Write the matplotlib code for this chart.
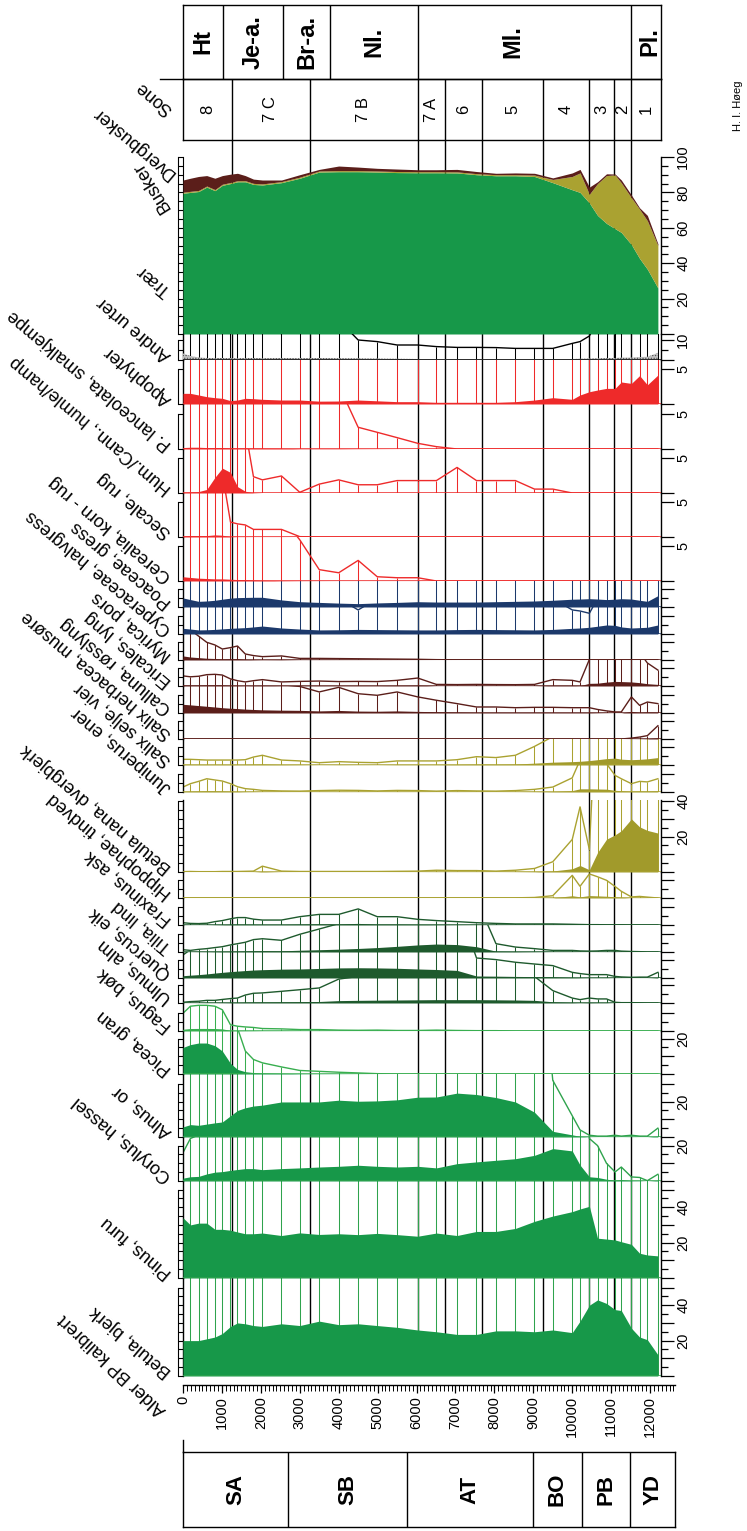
import numpy as np
import matplotlib.pyplot as plt
from matplotlib.transforms import ScaledTranslation

plt.rcParams['font.family'] = ['Liberation Sans', 'DejaVu Sans']
plt.rcParams['hatch.linewidth'] = 0.6

# ---------------- data ----------------
AGES = [0, 190, 400, 610, 820, 1010, 1220, 1400, 1600, 1810,
        2040, 2530, 3000, 3500, 4000, 4500, 4990, 5500, 6030, 6510,
        7040, 7540, 8040, 8540, 9030, 9500, 10000, 10200, 10440, 10650,
        10880, 11100, 11260, 11520, 11730, 11930, 12200]

BETULA = [20, 20, 20, 21, 22, 24, 28, 30, 29.5, 28.5,
          28, 29.5, 28.5, 31, 29, 29.5, 28.5, 27.5, 26, 25,
          23.5, 23.5, 25.5, 25.5, 25, 26, 24.5, 31, 40, 43,
          41, 37.5, 37, 27, 22, 20.5, 12]
PINUS = [34, 30, 31, 31, 27.5, 27.5, 27, 26, 25, 25,
         25.4, 24, 25.5, 24.6, 25, 24.5, 25.2, 24.5, 23.6, 25.4,
         24, 26.3, 26.3, 28, 32, 35, 37.5, 39, 40.5, 22.5,
         22, 21.5, 20.5, 19, 14, 13, 12.5]
CORYLUS = [1.6, 2.4, 2.6, 4, 5, 5.3, 6, 6.5, 7, 7,
           6.4, 7, 7.4, 7.9, 8.3, 8.9, 8.3, 7.9, 8.3, 7.4,
           9.8, 10.8, 11.7, 12.6, 14.5, 18.3, 17, 9, 2.4, 2.0,
           1.0, 0.51, 0.79, 0.23, 0.2, 0.02, 0.38]
ALNUS = [5.7, 7, 6.6, 7.3, 8, 8.5, 12, 15, 16.5, 17.5,
         18, 19.8, 19.8, 19.8, 20.8, 20.2, 20.4, 21, 22.5, 22.6,
         24.8, 24, 22.3, 19.8, 14, 3.2, 1.2, 0.4, 0.1, 0.05,
         0.05, 0.1, 0.05, 0.1, 0.05, 0.05, 0.5]
PICEA = [15, 16.6, 17.5, 17.5, 16, 13, 6, 2.6, 1.3, 0.82,
         0.63, 0.4, 0.2, 0.15, 0.1, 0.06, 0.02, 0, 0, 0,
         0, 0, 0, 0, 0, 0, 0, 0, 0, 0,
         0, 0, 0, 0, 0, 0, 0]
FAGUS = [1.0, 1.4, 1.45, 1.45, 1.4, 1.2, 0.35, 0.27, 0.23, 0.2,
         0.14, 0.12, 0.08, 0.08, 0.05, 0.04, 0.05, 0.03, 0.03, 0.05,
         0.03, 0.02, 0.02, 0, 0, 0, 0, 0, 0, 0,
         0, 0, 0, 0, 0, 0, 0]
ULMUS = [0.04, 0.08, 0.1, 0.15, 0.15, 0.2, 0.25, 0.28, 0.45, 0.55,
         0.57, 0.66, 0.75, 0.85, 1.35, 1.5, 1.6, 1.7, 1.8, 1.9,
         1.9, 1.9, 1.8, 1.7, 1.5, 0.7, 0.28, 0.19, 0.28, 0.23,
         0.23, 0.04, 0.02, 0.02, 0.01, 0, 0]
QUERCUS = [1.3, 1.6, 1.9, 2.3, 2.8, 3.2, 3.6, 3.9, 4.2, 4.5,
           4.7, 5.0, 5.1, 5.4, 5.7, 5.8, 5.7, 5.5, 5.1, 4.8,
           4.3, 1.13, 1.04, 0.89, 0.79, 0.7, 0.32, 0.25, 0.19, 0.19,
           0.19, 0.09, 0.06, 0.04, 0.05, 0.05, 0.32]
TILIA = [0.13, 0.09, 0.15, 0.19, 0.25, 0.3, 0.4, 0.47, 0.55, 0.7,
         0.75, 0.66, 1.0, 1.3, 1.6, 2.0, 2.5, 3.2, 4.0, 4.5,
         4.2, 3.0, 0.47, 0.28, 0.19, 0.09, 0.09, 0.06, 0.05, 0.06,
         0.09, 0.09, 0.05, 0.03, 0.02, 0, 0]
FRAXINUS = [0.13, 0.09, 0.08, 0.1, 0.19, 0.25, 0.35, 0.42, 0.42, 0.33,
            0.28, 0.28, 0.47, 0.6, 0.6, 0.91, 0.47, 0.47, 0.32, 0.25,
            0.19, 0.13, 0.09, 0.06, 0.06, 0.06, 0.04, 0.03, 0.02, 0.02,
            0.01, 0.01, 0.01, 0, 0, 0, 0]
HIPPOPHAE = [0.01, 0.01, 0.01, 0.01, 0.01, 0.01, 0.01, 0.01, 0.01, 0.01,
             0.01, 0.01, 0.01, 0.01, 0.01, 0.01, 0.01, 0.01, 0.01, 0.01,
             0.01, 0.01, 0.01, 0.01, 0.03, 0.13, 1.28, 0.66, 1.36, 1.2,
             1.0, 0.65, 0.38, 0.06, 0.09, 0.05, 0]
BETULA_NANA = [0.02, 0.03, 0.02, 0.02, 0.02, 0.03, 0.03, 0.03, 0.04, 0.05,
               0.33, 0.05, 0.03, 0.03, 0.03, 0.03, 0.03, 0.04, 0.05, 0.1,
               0.08, 0.08, 0.05, 0.1, 0.2, 0.58, 1.84, 3.68, 1.26, 11,
               18.5, 21, 23.3, 30, 25.5, 23.5, 22]
JUNIPERUS = [0.28, 0.47, 0.6, 0.75, 0.68, 0.62, 0.47, 0.3, 0.19, 0.15,
             0.09, 0.06, 0.05, 0.08, 0.1, 0.09, 0.06, 0.09, 0.08, 0.05,
             0.08, 0.06, 0.05, 0.08, 0.15, 0.28, 0.8, 1.8, 1.8, 1.7,
             1.6, 0.94, 0.75, 0.47, 0.6, 0.57, 0.75]
SALIX = [0.32, 0.32, 0.3, 0.28, 0.28, 0.28, 0.28, 0.28, 0.3, 0.45,
         0.55, 0.28, 0.23, 0.13, 0.19, 0.15, 0.13, 0.23, 0.23, 0.23,
         0.3, 0.47, 0.42, 0.55, 1.05, 1.6, 1.9, 2.1, 2.5, 3.0,
         3.6, 3.9, 3.3, 3.0, 3.2, 3.5, 4.2]
SALIX_HERBACEA = [0, 0, 0, 0, 0, 0, 0, 0, 0, 0,
                  0, 0, 0, 0, 0, 0, 0, 0, 0, 0,
                  0, 0, 0, 0, 0, 0, 0, 0, 0, 0,
                  0, 0, 0, 0.05, 0.11, 0.19, 0.75]
CALLUNA = [4.9, 4.6, 4.2, 3.8, 3.4, 3.0, 2.7, 2.5, 2.2, 2.0,
           1.8, 1.6, 1.5, 1.19, 1.45, 1.09, 1.0, 1.19, 0.91, 0.72,
           0.53, 0.34, 0.34, 0.3, 0.32, 0.32, 0.3, 0.3, 0.3, 0.2,
           0.12, 0.06, 0.06, 0.91, 0.43, 0.62, 0.53]
ERICALES = [0.57, 0.52, 0.55, 0.64, 0.66, 0.62, 0.4, 0.3, 0.23, 0.3,
            0.36, 0.23, 0.26, 0.28, 0.25, 0.26, 0.25, 0.32, 0.45, 0.09,
            0.08, 0.09, 0.08, 0.075, 0.09, 0.36, 0.32, 0.23, 1.5, 1.6,
            2.2, 2.6, 2.5, 2.3, 1.9, 1.3, 0.9]
MYRICA = [2.3, 1.7, 1.35, 1.0, 0.85, 0.62, 0.7, 0.79, 0.34, 0.25,
          0.19, 0.23, 0.09, 0.09, 0.08, 0.07, 0.06, 0.05, 0.04, 0.02,
          0.01, 0.01, 0.01, 0.01, 0.01, 0.01, 0.01, 0.01, 0.01, 0.01,
          0.01, 0.01, 0.01, 0.01, 0.01, 0.01, 0.01]
CYPERACEAE = [3.2, 2.8, 2.3, 2.4, 2.6, 2.9, 3.2, 3.4, 3.6, 4.0,
              4.5, 3.4, 2.8, 2.3, 2.4, 2.6, 2.5, 2.4, 2.3, 2.3,
              2.5, 2.6, 2.5, 2.4, 2.3, 2.6, 3.2, 3.4, 3.8, 4.4,
              5.1, 4.9, 4.0, 3.4, 3.6, 3.8, 5.1]
CYPERACEAE_CURVE = [20, 20, 20, 20, 20, 20, 20, 20, 20, 20,
                    20, 20, 20, 20, 20, 13.6, 20, 20, 20, 20,
                    20, 20, 20, 20, 20, 20, 13.6, 13.0, 11.7, 20,
                    20, 20, 20, 20, 20, 20, 20]
POACEAE = [5.1, 4.2, 3.2, 3.4, 3.8, 4.4, 5.0, 5.3, 5.4, 5.5,
           5.5, 4.0, 3.0, 2.6, 2.2, 1.9, 2.3, 2.6, 3.0, 2.8,
           2.8, 2.8, 3.0, 3.2, 3.4, 3.8, 4.4, 4.5, 4.7, 4.5,
           4.2, 4.4, 4.7, 4.5, 3.8, 3.2, 6.4]
CEREALIA = [0.6, 0.5, 0.4, 0.35, 0.3, 0.3, 0.25, 0.2, 0.2, 0.15,
            0.1, 0.05, 0.03, 0.02, 0.01, 0.01, 0.01, 0.01, 0.01, 0,
            0, 0, 0, 0, 0, 0, 0, 0, 0, 0,
            0, 0, 0, 0, 0, 0, 0]
CEREALIA_CURVE = [9, 9, 9, 9, 9, 9, 9, 9, 9, 9,
                  9, 9, 5.8, 1.6, 1.16, 2.9, 0.6, 0.46, 0.46, 0,
                  0, 0, 0, 0, 0, 0, 0, 0, 0, 0,
                  0, 0, 0, 0, 0, 0, 0]
SECALE = [0.15, 0.2, 0.2, 0.2, 0.3, 0.25, 0.05, 0.02, 0.02, 0.01,
          0.01, 0.01, 0, 0, 0, 0, 0, 0, 0, 0,
          0, 0, 0, 0, 0, 0, 0, 0, 0, 0,
          0, 0, 0, 0, 0, 0, 0]
SECALE_CURVE = [9, 9, 9, 9, 9, 9, 2.1, 1.85, 1.7, 1.07,
                1.07, 1.07, 0.05, 0, 0, 0, 0, 0, 0, 0,
                0, 0, 0, 0, 0, 0, 0, 0, 0, 0,
                0, 0, 0, 0, 0, 0, 0]
HUM_CANN = [0.1, 0.15, 0.2, 0.5, 2.2, 3.5, 2.9, 0.9, 0.25, 0.05,
            0, 0, 0, 0, 0, 0, 0, 0, 0, 0,
            0, 0, 0, 0, 0, 0, 0, 0, 0, 0,
            0, 0, 0, 0, 0, 0, 0]
HUM_CANN_CURVE = [9, 9, 9, 9, 9, 9, 9, 9, 9, 2.3,
                  1.85, 2.4, 0.1, 1.25, 1.85, 1.16, 1.16, 1.75, 1.75, 1.75,
                  3.6, 1.75, 1.75, 1.75, 0.55, 0.55, 0, 0, 0, 0,
                  0, 0, 0, 0, 0, 0, 0]
PLANCEOLATA = [0.2, 0.25, 0.25, 0.2, 0.2, 0.2, 0.15, 0.15, 0.15, 0.12,
               0.12, 0.1, 0.05, 0.05, 0.05, 0.03, 0.02, 0.01, 0, 0,
               0, 0, 0, 0, 0, 0, 0, 0, 0, 0,
               0, 0, 0, 0, 0, 0, 0]
PLANCEOLATA_CURVE = [9, 9, 9, 9, 9, 9, 9, 9, 9, 9,
                     9, 9, 9, 9, 9, 3.06, 2.35, 1.6, 0.8, 0.33,
                     0, 0, 0, 0, 0, 0, 0, 0, 0, 0,
                     0, 0, 0, 0, 0, 0, 0]
APOPHYTER = [1.5, 1.5, 1.27, 1.03, 0.89, 0.8, 0.47, 0.56, 0.8, 0.75,
             0.66, 0.56, 0.56, 0.4, 0.42, 0.56, 0.45, 0.33, 0.33, 0.24,
             0.24, 0.24, 0.24, 0.33, 0.56, 0.89, 0.66, 1.27, 1.73, 1.97,
             2.2, 2.2, 3.1, 2.9, 4.0, 2.7, 4.08]
ANDRE_URTER = [3.3, 2.0, 1.3, 1.0, 1.0, 1.0, 0.9, 0.9, 1.0, 1.0,
               0.9, 1.0, 0.9, 1.0, 0.9, 0.8, 0.7, 0.6, 0.5, 0.4,
               0.4, 0.4, 0.4, 0.4, 0.4, 0.4, 0.5, 0.6, 0.7, 0.8,
               1.0, 1.0, 1.2, 1.2, 1.5, 1.6, 3.6]
ANDRE_URTER_CURVE = [20, 20, 20, 20, 20, 20, 20, 20, 20, 20,
                     20, 20, 20, 20, 20, 10, 9.2, 7.5, 7.5, 6.7,
                     6.3, 6.3, 6.2, 5.8, 5.8, 5.8, 8.3, 9.2, 12, 20,
                     20, 20, 20, 20, 20, 20, 20]
TRAER = [79.5, 80, 80.5, 83, 81, 84, 85, 86, 86, 84.5,
         84.2, 85.5, 88, 91.5, 91.7, 91.7, 91.5, 91.2, 91.1, 91.1,
         91, 90, 89.4, 89.4, 89, 85.5, 81.5, 80, 74, 67,
         62.5, 59.5, 57.4, 50.5, 42.7, 36.6, 26]
DVERGBUSKER = [0.6, 0.6, 0.6, 0.6, 0.6, 0.6, 0.6, 0.6, 0.6, 0.6,
               0.6, 0.6, 0.6, 0.6, 0.6, 0.6, 0.6, 0.6, 0.6, 0.6,
               0.6, 0.6, 0.6, 0.6, 0.8, 1.8, 7.5, 11, 5, 18,
               27, 30.4, 28, 26.5, 27.8, 27.4, 24]
BUSKER = [6.9, 7.4, 7.9, 5.9, 6.4, 4.9, 4.7, 4.2, 2.9, 2.4,
          2.2, 0.9, 1.4, 0.9, 2.6, 2.0, 1.5, 1.4, 1.1, 1.1,
          1.4, 1.2, 0.8, 1.0, 1.0, 0.9, 2.0, 2.0, 4.0, 1.0,
          1.0, 0.5, 1.6, 1.5, 0.8, 3.0, 1.0]

ZONE_BOUNDS = [1250, 3250, 6040, 6740, 7690, 9240, 10430, 11080, 11500]
SONE_LABELS = ['8', '7 C', '7 B', '7 A', '6', '5', '4', '3', '2', '1']
CHRONO_TOP_LABELS = ['Ht', 'Je-a.', 'Br-a.', 'Nl.', 'Ml.', 'Pl.']
CHRONO_TOP_BOUNDS = [1030, 2575, 3770, 6040, 11500]
CHRONO_TOP_POS = [515, 1800, 3170, 4905, 8470, 12000]
CHRONO_BOT_LABELS = ['SA', 'SB', 'AT', 'BO', 'PB', 'YD']
CHRONO_BOT_BOUNDS = [2710, 5760, 8990, 10240, 11490]
AGE_TICKS = list(range(0, 12001, 1000))

# ---------------- layout ----------------
W, H = 747, 1531
X0 = 183              # pixel of age 0
PXY = 0.038925        # pixels per year
AGE_MAX = 12280       # right edge of the panels
AGE_AXIS_MAX = 12640

GREEN = '#179849'
GREEN_LN = '#2fa34d'
LGREEN = '#38ae4f'
DKGREEN = '#1e5a2d'
OLIVE = '#aaa231'
OLIVE_F = '#a19a2b'
BROWN = '#5b1e1a'
BLUE = '#1c396b'
RED = '#ee2a2a'

fig = plt.figure(figsize=(W / 100, H / 100), dpi=100)


def fbox(a0, a1, ytop, ybot):
    x0 = X0 + a0 * PXY
    x1 = X0 + a1 * PXY
    return [x0 / W, 1 - ybot / H, (x1 - x0) / W, (ybot - ytop) / H]


def label(x, y, text, rot=140, size=13):
    fig.text(x / W, 1 - y / H, text, rotation=rot, rotation_mode='anchor',
             ha='left', va='baseline', fontsize=size)


def scale_ticks(ax, tmax, major, minor, labels, trans_dpi):
    step = minor if minor else major
    allt = list(np.arange(0, tmax + 1e-6, step))
    ax.set_yticks(allt)
    ax.set_yticklabels([])
    ax.tick_params(axis='y', which='major', length=3.6, width=0.8,
                   direction='out', left=True, right=False)
    # outer line of the little ladder scale on the left
    ax.plot([0, 0], [0, tmax], color='k', lw=0.8, clip_on=False,
            transform=ax.get_yaxis_transform() +
            ScaledTranslation(-0.05, 0, trans_dpi))
    sec = ax.secondary_yaxis('right')
    majt = list(np.arange(0, tmax + 1e-6, major))
    sec.set_yticks(majt, labels=[('%g' % v) if v in labels else '' for v in majt])
    if minor:
        mint = [v for v in allt if min(abs(v - m) for m in majt) > 1e-6]
        sec.set_yticks(mint, minor=True)
    sec.tick_params(axis='y', which='major', length=9.5, width=0.9,
                    labelsize=10.5, labelrotation=90, pad=1.5)
    sec.tick_params(axis='y', which='minor', length=5, width=0.9)
    sec.spines['right'].set_linewidth(1.0)
    for t in sec.get_yticklabels():
        t.set_verticalalignment('center')
    ax.spines['right'].set_visible(False)


# zone lines behind everything
bg = fig.add_axes(fbox(0, AGE_MAX, 79, 1376))
bg.set_xlim(0, AGE_MAX)
bg.set_ylim(0, 1)
bg.axis('off')
bg.vlines(ZONE_BOUNDS, 0, 1, colors='black', lw=1.0)

# chronozones on top
axc = fig.add_axes(fbox(0, AGE_MAX, 5, 79))
axc.set_xlim(0, AGE_MAX)
axc.set_ylim(0, 1)
axc.set_xticks([])
axc.set_yticks([])
axc.patch.set_visible(False)
for s in axc.spines.values():
    s.set_linewidth(1.0)
axc.vlines(CHRONO_TOP_BOUNDS, 0, 1, colors='k', lw=1.0)
for lab, pos in zip(CHRONO_TOP_LABELS, CHRONO_TOP_POS):
    axc.text(pos, 0.5, lab, rotation=90, ha='center', va='center',
             fontsize=17, fontweight='bold')

# pollen zones
axs = fig.add_axes(fbox(0, AGE_MAX, 79, 140))
axs.set_xlim(0, AGE_MAX)
axs.set_ylim(0, 1)
axs.set_xticks([])
axs.set_yticks([])
axs.patch.set_visible(False)
for s in axs.spines.values():
    s.set_linewidth(1.0)
axs.plot([-600, 0], [1, 1], color='k', lw=1.0, clip_on=False)
edges = [0] + ZONE_BOUNDS + [AGE_MAX]
for i, lab in enumerate(SONE_LABELS):
    axs.text((edges[i] + edges[i + 1]) / 2, 0.5, lab, rotation=90,
             ha='center', va='center', fontsize=12)
label(173, 108, 'Sone')

# trees / dwarf shrubs / shrubs, stacked
axt = fig.add_axes(fbox(0, AGE_MAX, 157, 334))
axt.patch.set_visible(False)
axt.set_xlim(0, AGE_MAX)
c1 = np.array(TRAER)
c2 = c1 + np.array(DVERGBUSKER)
c3 = c2 + np.array(BUSKER)
axt.fill_between(AGES, 0, c1, color=GREEN, lw=0, zorder=3)
axt.fill_between(AGES, c1, c2, color=OLIVE, lw=0, zorder=3)
axt.fill_between(AGES, c2, c3, color=BROWN, lw=0, zorder=3)
for s in ('top', 'bottom'):
    axt.spines[s].set_visible(False)
axt.set_xticks([])
scale_ticks(axt, 100, 20, 5, [20, 40, 60, 80, 100], fig.dpi_scale_trans)
axt.set_ylim(0, 100)
label(172, 289, 'Trær')
label(176, 172, 'Dvergbusker')
label(170, 208, 'Busker', rot=122)

SMALL = dict(tmax=10, major=10, minor=5, labels=[])
RED5 = dict(tmax=5, major=5, minor=None, labels=[5], scale=7.1)
PANELS = [
    dict(name='Betula, bjerk', fill=BETULA, color=GREEN_LN, fc=GREEN, base=1376, top=1278,
         tmax=50, major=10, minor=5, labels=[20, 40]),
    dict(name='Pinus, furu', fill=PINUS, color=GREEN_LN, fc=GREEN, base=1278, top=1181,
         tmax=50, major=10, minor=5, labels=[20, 40]),
    dict(name='Corylus, hassel', fill=CORYLUS, color=GREEN_LN, fc=GREEN, base=1181, top=1137,
         tmax=20, major=10, minor=5, labels=[20]),
    dict(name='Alnus, or', fill=ALNUS, color=GREEN_LN, fc=GREEN, base=1137, top=1074,
         tmax=30, major=10, minor=5, labels=[20]),
    dict(name='Picea, gran', fill=PICEA, color=LGREEN, fc=GREEN, base=1074, top=1031,
         tmax=20, major=10, minor=5, labels=[20]),
    dict(name='Fagus, bøk', fill=FAGUS, color=LGREEN, fc=LGREEN, base=1031, top=1003, **SMALL),
    dict(name='Ulmus, alm', fill=ULMUS, color=DKGREEN, fc=DKGREEN, base=1003, top=978, **SMALL),
    dict(name='Quercus, eik', fill=QUERCUS, color=DKGREEN, fc=DKGREEN, base=978, top=952, **SMALL),
    dict(name='Tilia, lind', fill=TILIA, color=DKGREEN, fc=DKGREEN, base=952, top=925, **SMALL),
    dict(name='Fraxinus, ask', fill=FRAXINUS, color=DKGREEN, fc=DKGREEN, base=925, top=898, **SMALL),
    dict(name='Hippophae, tindved', fill=HIPPOPHAE, color=OLIVE, fc=OLIVE_F, base=898, top=872, **SMALL),
    dict(name='Betula nana, dvergbjerk', fill=BETULA_NANA, color=OLIVE, fc=OLIVE_F, base=872, top=800,
         tmax=40, major=10, minor=5, labels=[20, 40]),
    dict(name='Juniperus, ener', fill=JUNIPERUS, color=OLIVE, fc=OLIVE_F, base=792, top=765, **SMALL),
    dict(name='Salix selje, vier', fill=SALIX, color=OLIVE, fc=OLIVE_F, base=765, top=739, **SMALL),
    dict(name='Salix herbacea, musøre', fill=SALIX_HERBACEA, color=BROWN, fc=BROWN, base=739, top=713, **SMALL),
    dict(name='Calluna, røsslyng', fill=CALLUNA, color=BROWN, fc=BROWN, base=713, top=686, **SMALL),
    dict(name='Ericales, lyng', fill=ERICALES, color=BROWN, fc=BROWN, base=686, top=660, **SMALL),
    dict(name='Myrica, pors', fill=MYRICA, color=BROWN, fc=BROWN, base=660, top=634, **SMALL),
    dict(name='Cyperaceae, halvgress', fill=CYPERACEAE, curve=CYPERACEAE_CURVE, color=BLUE, fc=BLUE,
         base=634, top=607, **SMALL),
    dict(name='Poaceae, gress', fill=POACEAE, color=BLUE, fc=BLUE, base=607, top=581, **SMALL),
    dict(name='Cerealia, korn - rug', fill=CEREALIA, curve=CEREALIA_CURVE, color=RED, fc=RED,
         base=581, top=537, **RED5),
    dict(name='Secale, rug', fill=SECALE, curve=SECALE_CURVE, color=RED, fc=RED,
         base=537, top=493, **RED5),
    dict(name='Hum./Cann., humle/hamp', fill=HUM_CANN, curve=HUM_CANN_CURVE, color=RED, fc=RED,
         base=493, top=449, **RED5),
    dict(name='P. lanceolata, smalkjempe', fill=PLANCEOLATA, curve=PLANCEOLATA_CURVE, color=RED, fc=RED,
         base=449, top=404, **RED5),
    dict(name='Apophyter', fill=APOPHYTER, exag=100, color=RED, fc=RED,
         base=404, top=360, **RED5),
    dict(name='Andre urter', fill=ANDRE_URTER, curve=ANDRE_URTER_CURVE, color='black', fc=None,
         base=360, top=334, tmax=10, major=10, minor=5, labels=[10], scale=2.0),
]

for p in PANELS:
    sc = p.get('scale', 1.77)
    ymax = (p['base'] - p['top']) / sc
    ax = fig.add_axes(fbox(0, AGE_MAX, p['top'], p['base']))
    ax.patch.set_visible(False)
    ax.set_xlim(0, AGE_MAX)
    for s in ('top', 'bottom'):
        ax.spines[s].set_visible(False)
    ax.spines['left'].set_linewidth(1.0)
    fill = np.asarray(p['fill'], float)
    if 'curve' in p:
        curve = np.asarray(p['curve'], float)
    else:
        curve = fill * p.get('exag', 10)
    ax.vlines(AGES, 0, curve, colors=p['color'], lw=0.75, zorder=2)
    ax.plot(AGES, curve, color=p['color'], lw=1.0, zorder=2)
    if p['fc'] is None:
        ax.fill_between(AGES, 0, fill, facecolor='#c4c4c4', edgecolor='#555555',
                        hatch='......', lw=0, zorder=3)
    else:
        ax.fill_between(AGES, 0, fill, color=p['fc'], lw=0, zorder=3)
    ax.axhline(0, color=p['color'], lw=1.1, zorder=4)
    ax.set_xticks([])
    scale_ticks(ax, p['tmax'], p['major'], p['minor'], p['labels'], fig.dpi_scale_trans)
    ax.set_ylim(0, ymax)
    label(172, p['base'] - 6, p['name'])

# age axis
axa = fig.add_axes(fbox(0, AGE_AXIS_MAX, 1375, 1385))
axa.patch.set_visible(False)
axa.set_xlim(0, AGE_AXIS_MAX)
for s in ('top', 'left', 'right'):
    axa.spines[s].set_visible(False)
axa.spines['bottom'].set_linewidth(1.0)
axa.set_yticks([])
axa.set_xticks(AGE_TICKS)
axa.set_xticks(np.arange(0, AGE_AXIS_MAX - 39, 100), minor=True)
axa.tick_params(axis='x', which='major', length=6, width=0.9, labelsize=10.5,
                labelrotation=90, pad=2)
axa.tick_params(axis='x', which='minor', length=4, width=0.7)
label(167, 1409, 'Alder BP kalibrert', rot=137)

# chronozones at the bottom
axb = fig.add_axes(fbox(0, AGE_AXIS_MAX, 1452, 1527))
axb.patch.set_visible(False)
axb.set_xlim(0, AGE_AXIS_MAX)
axb.set_ylim(0, 1)
axb.set_xticks([])
axb.set_yticks([])
for s in axb.spines.values():
    s.set_linewidth(1.0)
axb.vlines(CHRONO_BOT_BOUNDS, 0, 1, colors='k', lw=1.0)
axb.plot([0, 0], [1, 1.16], color='k', lw=1.0, clip_on=False)
bedges = [0] + CHRONO_BOT_BOUNDS + [AGE_AXIS_MAX]
for i, lab in enumerate(CHRONO_BOT_LABELS):
    axb.text((bedges[i] + bedges[i + 1]) / 2, 0.5, lab, rotation=90,
             ha='center', va='center', fontsize=16, fontweight='bold')

fig.text(738 / W, 1 - 106 / H, 'H. I. Høeg', rotation=90, ha='center',
         va='center', fontsize=8)

fig.savefig('out.png', dpi=100)
